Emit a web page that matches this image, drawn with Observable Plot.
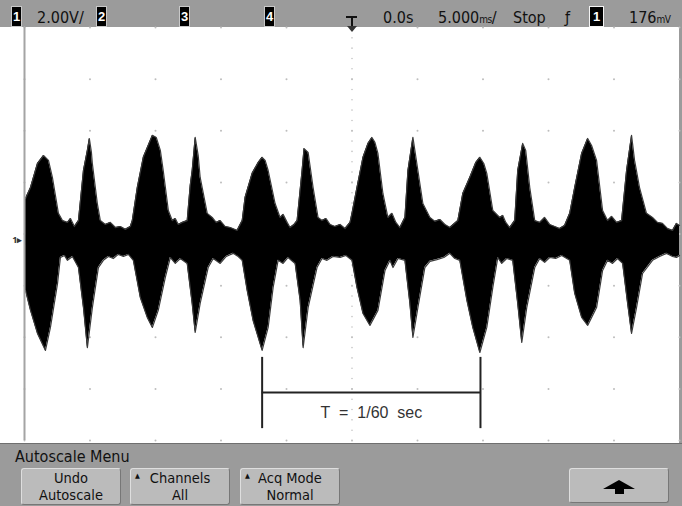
<!DOCTYPE html>
<html><head><meta charset="utf-8">
<script src="https://cdn.jsdelivr.net/npm/d3@7"></script>
<script src="https://cdn.jsdelivr.net/npm/@observablehq/plot@0.6"></script>
<style>
body{margin:0;background:#fff}
#wrap{position:relative;width:682px;height:506px;overflow:hidden;font-family:"Liberation Sans Narrow","DejaVu Sans Condensed","Liberation Sans",Arial,sans-serif;color:#111}
#top{position:absolute;left:0;top:0;width:682px;height:27px;background:#9b9b9b}
#top .t{position:absolute;top:9px;font-size:16px;line-height:17px;white-space:nowrap}
#top .u{font-size:10px;letter-spacing:-0.5px}
#top .box{position:absolute;top:7px;height:19px;width:9px;background:#000;color:#fff;font-family:"Liberation Sans",Arial,sans-serif;font-weight:bold;font-size:13px;line-height:19px;text-align:center;box-shadow:0 0 0 1px #c8c8c8}
#chart{position:absolute;left:0;top:27px;width:682px;height:416px;background:linear-gradient(to right,#fff 679px,#9b9b9b 679px)}
#marker{position:absolute;left:345px;top:13px;z-index:5}
#menu{position:absolute;left:0;top:443px;width:682px;height:63px;background:#9b9b9b;border-top:1px solid #6f6f6f;box-sizing:border-box}
#menu .title{position:absolute;left:15px;top:4px;font-size:16px;line-height:17px;white-space:nowrap}
#menu .btn{position:absolute;top:24px;height:37px;width:100px;background:#bbbbbb;border:1px solid;border-color:#dedede #777 #777 #dedede;border-radius:3px;box-sizing:border-box;text-align:center;font-size:14.5px;line-height:17px;padding-top:1px}
#menu .tri{position:absolute;left:4px;top:3px;font-size:7px;line-height:8px}
</style></head>
<body>
<div id="wrap">
  <div id="top">
    <div class="box" style="left:12px">1</div>
    <div class="t" style="left:37px">2.00V/</div>
    <div class="box" style="left:97px">2</div>
    <div class="box" style="left:180px">3</div>
    <div class="box" style="left:265px">4</div>
    <div class="t" style="left:383px">0.0s</div>
    <div class="t" style="left:438px">5.000<span class="u">ms</span>/</div>
    <div class="t" style="left:513px">Stop</div>
    <div class="t" style="left:565px">ƒ</div>
    <div class="box" style="left:590px;width:13px;box-shadow:0 0 0 1px #f4f4f4">1</div>
    <div class="t" style="left:629px">176<span class="u">mV</span></div>
  </div>
  <svg id="marker" width="14" height="20" viewBox="0 0 14 20">
    <rect x="1" y="3" width="11" height="2" fill="#111"/>
    <rect x="6" y="3" width="2" height="11" fill="#111"/>
    <polygon points="2,13 12,13 7,19" fill="#333"/>
  </svg>
  <div id="chart"></div>
  <div id="menu">
    <div class="title">Autoscale Menu</div>
    <div class="btn" style="left:21px">Undo<br>Autoscale</div>
    <div class="btn" style="left:130px"><span class="tri">▲</span>Channels<br>All</div>
    <div class="btn" style="left:240px"><span class="tri">▲</span>Acq Mode<br>Normal</div>
    <div class="btn" style="left:569px;height:35px">
      <svg width="98" height="33" viewBox="0 0 98 33" style="position:absolute;left:0;top:0">
        <polygon points="49,11 33,20 45,20 45,25 54,25 54,20 65,20" fill="#000"/>
      </svg>
    </div>
  </div>
</div>
<script>
// Channel 1 envelope, time in ms (5 ms/div), voltage in V (2 V/div)
const upperTime = [-24.92,-24.54,-24.01,-23.55,-23.17,-22.87,-22.41,-22.10,-21.72,-21.49,
  -21.19,-20.88,-20.50,-20.20,-20.05,-19.89,-19.82,-19.44,-19.21,-18.83,
  -18.45,-18.06,-17.68,-17.30,-16.92,-16.77,-16.39,-15.93,-15.24,-14.94,
  -14.63,-14.41,-14.02,-13.72,-13.49,-13.26,-12.96,-12.58,-12.35,-12.20,
  -11.97,-11.74,-11.59,-11.05,-10.67,-10.37,-10.06,-9.68,-9.30,-8.77,
  -8.38,-8.16,-7.62,-7.16,-6.86,-6.63,-6.40,-5.87,-5.49,-5.26,
  -4.95,-4.73,-4.42,-4.19,-3.81,-3.66,-3.35,-2.97,-2.59,-2.29,
  -1.98,-1.68,-1.30,-0.91,-0.53,-0.15,0,0.38,0.84,1.22,
  1.52,1.75,1.98,2.36,2.74,3.05,3.35,3.66,4.04,4.27,
  4.65,4.95,5.41,5.95,6.33,6.71,7.09,7.47,8.08,8.46,
  8.99,9.45,9.76,10.06,10.29,10.75,11.28,11.51,11.74,12.04,
  12.42,12.65,13.03,13.26,13.57,13.95,14.33,14.71,15.09,15.47,
  15.85,16.23,16.62,17.00,17.53,17.99,18.29,18.67,19.13,19.51,
  19.82,20.20,20.58,20.96,21.34,21.57,21.95,22.48,22.94,23.32,
  23.70,24.09,24.47,24.77,25.00];
const upperVolt = [1.63,2.05,2.98,3.29,3.10,2.44,1.05,0.77,0.70,0.85,
  0.54,0.77,2.71,3.49,3.95,3.41,2.98,1.43,0.77,0.62,
  0.70,0.50,0.54,0.43,0.54,0.77,2.05,3.22,4.07,3.99,
  3.49,2.71,1.16,0.77,0.85,0.62,0.70,0.77,2.13,2.71,
  3.99,3.29,2.44,1.05,0.89,0.70,0.77,0.54,0.50,0.39,
  0.77,1.67,2.60,3.02,3.22,3.10,2.71,1.43,0.89,1.01,
  0.70,0.50,0.62,0.77,2.71,3.56,3.41,2.05,0.89,0.77,
  0.85,0.62,0.54,0.62,0.46,0.70,1.05,2.05,3.22,3.76,
  3.99,3.80,3.37,1.82,0.89,1.05,0.70,0.50,0.89,2.71,
  3.99,2.98,1.43,0.89,0.74,0.81,0.62,0.50,0.77,1.82,
  2.44,3.02,3.22,2.98,2.60,1.16,0.89,0.97,0.70,0.50,
  0.77,2.71,3.76,3.49,2.05,0.77,0.70,0.89,0.62,0.54,
  0.46,0.58,1.05,2.05,3.37,3.95,3.68,3.10,1.16,0.77,
  0.93,0.70,0.77,2.71,4.07,3.10,2.05,1.05,0.89,0.70,
  0.66,0.46,0.39,0.66,0.58];
const lowerTime = [-24.92,-24.54,-24.01,-23.40,-23.02,-22.48,-22.26,-21.95,-21.72,-21.34,
  -20.88,-20.50,-20.20,-19.82,-19.36,-18.98,-18.60,-18.22,-17.84,-17.45,
  -17.07,-16.69,-16.16,-15.63,-15.24,-14.79,-14.25,-13.87,-13.49,-13.11,
  -12.58,-12.20,-11.97,-11.59,-10.98,-10.59,-10.06,-9.60,-9.07,-8.69,
  -8.38,-8.00,-7.55,-6.86,-6.40,-6.02,-5.64,-5.26,-4.88,-4.34,
  -3.96,-3.73,-3.35,-2.67,-2.29,-1.91,-1.45,-0.91,-0.46,0,
  0.38,0.84,1.37,1.98,2.52,2.90,3.13,3.51,4.04,4.42,
  4.65,5.03,5.56,5.95,6.48,7.01,7.47,7.85,8.23,8.77,
  9.22,9.76,10.29,10.75,11.13,11.43,11.81,12.27,12.65,12.96,
  13.34,13.95,14.33,14.71,15.09,15.55,16.01,16.62,17.00,17.53,
  17.99,18.67,19.13,19.51,19.89,20.27,20.66,21.04,21.34,21.72,
  22.18,22.94,23.48,24.01,24.47,24.77,25.00];
const lowerVolt = [-1.94,-2.71,-3.60,-4.26,-3.37,-1.67,-0.66,-0.58,-0.77,-0.62,
  -1.05,-2.60,-4.15,-2.60,-1.05,-0.77,-0.62,-0.70,-0.54,-0.62,
  -0.54,-0.77,-2.21,-2.98,-3.37,-2.71,-1.43,-0.66,-0.89,-0.70,
  -0.89,-2.44,-3.56,-2.44,-1.05,-0.70,-0.89,-0.62,-0.50,-0.62,
  -0.77,-1.94,-3.10,-4.26,-3.37,-1.82,-0.77,-0.89,-0.66,-0.89,
  -2.32,-4.15,-2.60,-1.05,-0.70,-0.77,-0.62,-0.66,-0.58,-0.77,
  -1.82,-2.83,-3.29,-2.71,-1.16,-0.77,-1.05,-0.70,-0.77,-2.44,
  -3.76,-2.60,-1.05,-0.81,-0.74,-0.66,-0.50,-0.70,-0.77,-2.32,
  -3.37,-4.34,-3.37,-1.82,-0.66,-0.89,-0.70,-0.77,-2.44,-3.95,
  -2.60,-1.05,-0.70,-0.85,-0.66,-0.70,-0.58,-0.77,-2.05,-2.98,
  -3.29,-2.60,-1.16,-0.77,-0.89,-0.70,-0.89,-2.44,-3.60,-2.60,
  -1.28,-0.77,-0.62,-0.50,-0.62,-0.66,-0.58];

// Graticule (10 x 8 divisions) and screen offset
const timeDivs = [-25,-20,-15,-10,-5,0,5,10,15,20,25];
const voltDivs = [-7.75,-5.75,-3.75,-1.75,0.25,2.25,4.25,6.25,8.25];
const screenCenterVolt = 0.25;

// Period annotation
const periodStart = -6.86;           // ms, bottom peak of a large lobe
const periodLength = 1000 / 60;      // ms
const periodBarVolts = [-4.53, -7.29];
const periodLineVolt = -5.89;
const periodLabelVolt = -6.86;
const periodLabel = "T\u00a0\u00a0=\u00a0\u00a01/60\u00a0\u00a0sec";

const upper = upperTime.map((t, i) => ({t, v: upperVolt[i]}));
const lower = lowerTime.map((t, i) => ({t, v: lowerVolt[i]}));
const gridPts = timeDivs.flatMap(t => voltDivs.map(v => ({t, v})));
const minorH = d3.range(-25, 25.001, 1).map(t => ({t, v: screenCenterVolt}));
const minorV = d3.range(-7.75, 8.2501, 0.4).map(v => ({t: 0, v}));
const periodEnds = [periodStart, periodStart + periodLength].map(t => ({t, v1: periodBarVolts[0], v2: periodBarVolts[1]}));

const chart = Plot.plot({
  width: 682, height: 416,
  marginLeft: 24, marginRight: 3, marginTop: 0, marginBottom: 3,
  x: {domain: [-25, 25], axis: null},
  y: {domain: [-7.75, 8.25], axis: null},
  style: {background: "transparent", overflow: "visible"},
  marks: [
    Plot.dot(gridPts, {x: "t", y: "v", r: 1, fill: "#bdbdbd", stroke: null}),
    Plot.dot(minorH, {x: "t", y: "v", r: 0.8, fill: "#c4c4c4", stroke: null}),
    Plot.dot(minorV, {x: "t", y: "v", r: 0.8, fill: "#c4c4c4", stroke: null}),
    Plot.areaY(upper, {x: "t", y1: () => -0.2, y2: "v", fill: "#000"}),
    Plot.areaY(lower, {x: "t", y1: () => 0.2, y2: "v", fill: "#000"}),
    Plot.line(upper, {x: "t", y: "v", stroke: "#3a3a3a", strokeWidth: 1.2}),
    Plot.line(lower, {x: "t", y: "v", stroke: "#3a3a3a", strokeWidth: 1.2}),
    Plot.ruleX([{t: -25}], {x: "t", stroke: "#a4a4a4", strokeWidth: 2}),
    Plot.ruleX(periodEnds, {x: "t", y1: "v1", y2: "v2", stroke: "#222", strokeWidth: 2}),
    Plot.ruleY([{v: periodLineVolt}], {y: "v", x1: () => periodStart, x2: () => periodStart + periodLength, stroke: "#222", strokeWidth: 2}),
    Plot.text([{t: periodStart + periodLength / 2, v: periodLabelVolt, s: periodLabel}],
      {x: "t", y: "v", text: "s", lineAnchor: "bottom", fontSize: 16, fill: "#333", fontFamily: "Liberation Sans, Arial, sans-serif"}),
    Plot.text([{t: -25, v: 0, s: "1▸"}], {x: "t", y: "v", text: "s", textAnchor: "end", dx: -2, fontSize: 9, fill: "#333", fontWeight: "bold"})
  ]
});
document.getElementById("chart").appendChild(chart);
</script>
</body></html>
